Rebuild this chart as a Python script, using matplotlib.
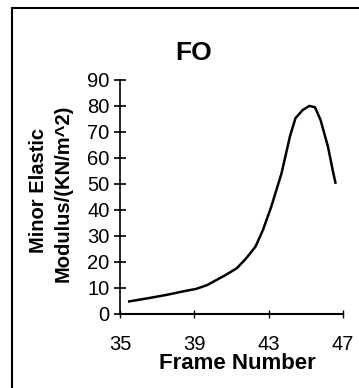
import numpy as np
import matplotlib.pyplot as plt
from matplotlib.patches import Rectangle

# Data
frame = [35.5, 36.5, 37.5, 38.5, 39.1, 39.7, 40.7, 41.3, 41.8, 42.3, 42.7, 43.15,
         43.7, 44.15, 44.45, 44.85, 45.2, 45.5, 45.8, 46.2, 46.45, 46.6]
modulus = [4.8, 6.0, 7.3, 8.8, 9.6, 11.1, 15.0, 17.6, 21.4, 25.9, 32.3, 41.3,
           54.1, 68.2, 75.3, 78.5, 80.0, 79.5, 74.6, 64.3, 55.4, 50.5]
xticks = [35, 39, 43, 47]
yticks = list(range(0, 100, 10))

plt.rcParams['font.family'] = ['Liberation Sans', 'DejaVu Sans']

fig = plt.figure(figsize=(3.59, 3.88), dpi=100)
ax = fig.add_axes([0.334, 0.191, 0.621, 0.603])

ax.plot(frame, modulus, color='black', linewidth=1.8)

ax.set_xlim(35, 47)
ax.set_ylim(0, 90)
ax.set_xticks(xticks)
ax.set_yticks(yticks)
ax.spines['top'].set_visible(False)
ax.spines['right'].set_visible(False)
ax.spines['left'].set_linewidth(1.2)
ax.spines['bottom'].set_linewidth(1.5)
ax.tick_params(axis='y', direction='inout', length=9, width=1.2, labelsize=14.5, pad=3)
ax.tick_params(axis='x', direction='inout', length=6, width=1.0, labelsize=14.5, pad=12)

fig.text(0.538, 0.863, 'FO', fontsize=19, fontweight='bold', ha='center', va='center')
fig.text(0.660, 0.064, 'Frame Number', fontsize=16, fontweight='bold', ha='center', va='center')
fig.text(0.106, 0.510, 'Minor Elastic', fontsize=14.5, fontweight='bold',
         rotation=90, ha='center', va='center')
fig.text(0.175, 0.503, 'Modulus/(KN/m^2)', fontsize=14.5, fontweight='bold',
         rotation=90, ha='center', va='center')

# scanned page frame
fig.patches.append(Rectangle((0.033, -0.1), 1.2, 1.079, transform=fig.transFigure,
                             fill=False, edgecolor='black', linewidth=1.5))

fig.savefig('out.png', dpi=100)
